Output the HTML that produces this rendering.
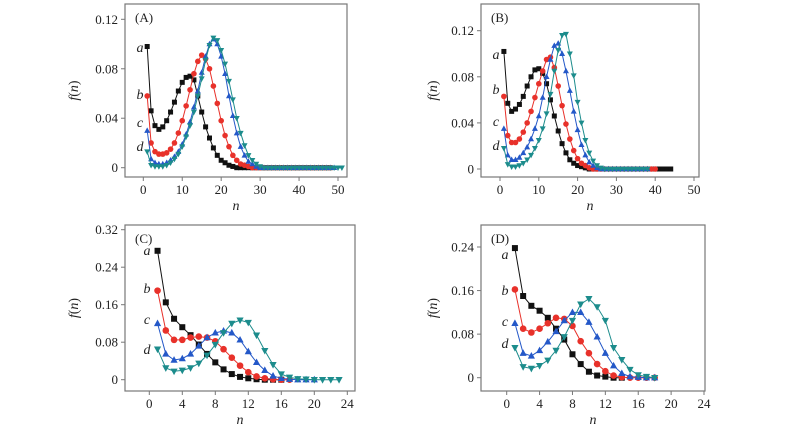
<!DOCTYPE html>
<html><head><meta charset="utf-8"><style>
html,body{margin:0;padding:0;background:#fff;}
svg{display:block;font-family:"Liberation Serif",serif;}
</style></head><body>
<svg id="fig" width="800" height="434" viewBox="0 0 800 434" xmlns="http://www.w3.org/2000/svg"></svg>
<script>
// Panel A data (n starts at 1)
const aA=[.098,.046,.034,.031,.033,.038,.045,.053,.062,.069,.073,.074,.071,.058,.045,.033,.024,.016,.010,.006,.004,.002,.001,0,0,0,0,0,0,0,0,0,0,0,0,0,0,0,0,0,0,0,0,0,0,0,0,0];
const bA=[.058,.020,.013,.011,.011,.012,.015,.020,.028,.038,.050,.063,.076,.086,.091,.088,.080,.066,.052,.038,.026,.017,.010,.006,.003,.002,.001,0,0,0,0,0,0,0,0,0,0,0,0,0,0,0,0,0,0,0,0,0];
const cA=[.030,.007,.004,.003,.003,.004,.006,.009,.013,.019,.027,.037,.049,.062,.077,.090,.100,.104,.100,.090,.076,.058,.042,.028,.017,.010,.005,.003,.001,0,0,0,0,0,0,0,0,0,0,0,0,0,0,0,0,0,0,0,0];
const dA=[.013,.002,.001,.001,.001,.002,.004,.007,.011,.017,.025,.034,.045,.058,.072,.087,.099,.105,.103,.095,.084,.070,.055,.040,.028,.018,.010,.006,.003,.001,0,0,0,0,0,0,0,0,0,0,0,0,0,0,0,0,0,0,0,0,0];
// Panel B data
const aB=[.102,.057,.050,.052,.056,.063,.072,.080,.086,.087,.083,.074,.060,.046,.033,.022,.014,.008,.005,.003,.002,.001,0,0,0,0,0,0,0,0,0,0,0,0,0,0,0,0,0,0,0,0,0,0];
const bB=[.063,.029,.023,.023,.026,.032,.040,.050,.062,.074,.085,.095,.097,.088,.072,.055,.039,.026,.016,.009,.005,.003,.001,0,0,0,0,0,0,0,0,0,0,0,0,0,0,0,0,0];
const cB=[.035,.012,.008,.008,.010,.014,.019,.026,.035,.046,.062,.080,.095,.107,.109,.100,.085,.068,.050,.034,.021,.012,.006,.003,.001,0,0,0,0,0,0,0,0,0,0,0,0,0];
const dB=[.018,.004,.002,.002,.003,.005,.008,.012,.018,.025,.035,.048,.065,.085,.103,.116,.117,.100,.081,.058,.040,.025,.014,.007,.003,.001,0,0,0,0,0,0,0,0,0,0,0,0];
// Panel C data
const aC=[.275,.165,.130,.112,.095,.075,.055,.037,.022,.012,.006,.003,.001,0,0,0];
const bC=[.190,.105,.085,.085,.090,.092,.090,.082,.065,.047,.030,.016,.007,.003,.001,0,0];
const cC=[.120,.055,.042,.045,.055,.072,.090,.100,.104,.100,.085,.060,.037,.020,.008,.003,.001,0,0,0];
const dC=[.065,.025,.018,.020,.025,.035,.052,.075,.100,.120,.127,.122,.095,.062,.032,.012,.005,.002,.001,0,0,0,0];
// Panel D data
const aD=[.238,.150,.132,.123,.110,.090,.070,.043,.025,.011,.004,.002,0,0];
const bD=[.162,.090,.083,.090,.100,.110,.108,.095,.067,.045,.025,.012,.004,.001,0,0,0,0];
const cD=[.100,.045,.040,.050,.066,.085,.105,.120,.120,.102,.075,.045,.022,.008,.002,.001,0,0];
const dD=[.055,.020,.017,.022,.032,.050,.075,.105,.135,.145,.130,.105,.055,.033,.015,.005,.002,0];
// tick labels
const xTicksAB=[0,10,20,30,40,50];
const yTicksA=[0,0.04,0.08,0.12];
const xTicksCD=[0,4,8,12,16,20,24];
const yTicksC=[0,0.08,0.16,0.24,0.32];
const yTicksD=[0,0.08,0.16,0.24];
const seriesNames=['a','b','c','d'];

const NS='http://www.w3.org/2000/svg';
const svg=document.getElementById('fig');
const colors=['#111','#e8312a','#2458c8','#1c8c8c'];
function el(t,at,p){const e=document.createElementNS(NS,t);for(const k in at)e.setAttribute(k,at[k]);(p||svg).appendChild(e);return e;}

function panel(cfg){
  const g=el('g',{});
  
  
  const X=v=>cfg.x0+(v-cfg.xmin)/(cfg.xmax-cfg.xmin)*(cfg.x1-cfg.x0);
  const Y=v=>cfg.y0+(v-cfg.ymin)/(cfg.ymax-cfg.ymin)*(cfg.y1-cfg.y0);
  const fr=el('rect',{x:cfg.L,y:cfg.T,width:cfg.R-cfg.L,height:cfg.B-cfg.T,fill:'none',stroke:'#777','stroke-width':1.2},g);
  
  
  cfg.xt.forEach(v=>{
    el('line',{x1:X(v),x2:X(v),y1:cfg.B,y2:cfg.B+4,stroke:'#777'},g);
    const t=el('text',{x:X(v),y:cfg.B+17,'text-anchor':'middle','font-size':13,fill:'#222'},g);
    t.textContent=v;
    
    
  });
  cfg.yt.forEach(v=>{
    el('line',{x1:cfg.L-4,x2:cfg.L,y1:Y(v),y2:Y(v),stroke:'#777'},g);
    const t=el('text',{x:cfg.L-7,y:Y(v)+4.5,'text-anchor':'end','font-size':13,fill:'#222'},g);
    t.textContent=v===0?'0':v.toFixed(2);
    
    
  });
  const pl=el('text',{x:cfg.L+10,y:cfg.T+18,'font-size':13,fill:'#222'},g);
  pl.textContent='('+cfg.id+')';
  
  
  const xt=el('text',{x:(cfg.L+cfg.R)/2,y:cfg.B+33,'text-anchor':'middle','font-size':14,'font-style':'italic',fill:'#222'},g);
  xt.textContent='n';
  
  
  const yt=el('text',{x:cfg.ytx,y:(cfg.T+cfg.B)/2,'text-anchor':'middle','font-size':14,fill:'#222',transform:`rotate(-90 ${cfg.ytx} ${(cfg.T+cfg.B)/2})`},g);
  yt.innerHTML='<tspan font-style="italic">f</tspan>(<tspan font-style="italic">n</tspan>)';
  
  
  const s=cfg.ms;
  cfg.data.forEach((arr,i)=>{
    const sg=el('g',{},g);
    
    
    const pts=arr.map((v,k)=>[X(k+1),Y(v)]);
    el('polyline',{points:pts.map(p=>p.join(',')).join(' '),fill:'none',stroke:colors[i],'stroke-width':1},sg);
    pts.forEach(([x,y])=>{
      let m;
      if(i===0)m=el('rect',{x:x-s/2,y:y-s/2,width:s,height:s,fill:colors[i]},sg);
      else if(i===1)m=el('circle',{cx:x,cy:y,r:s/2+0.3,fill:colors[i]},sg);
      else if(i===2)m=el('polygon',{points:`${x},${y-s*0.65} ${x-s*0.6},${y+s*0.45} ${x+s*0.6},${y+s*0.45}`,fill:colors[i]},sg);
      else m=el('polygon',{points:`${x},${y+s*0.65} ${x-s*0.6},${y-s*0.45} ${x+s*0.6},${y-s*0.45}`,fill:colors[i]},sg);
      
      
    });
    const lb=el('text',{x:cfg.lx,y:cfg.ly[i]+4,'text-anchor':'middle','font-size':14,'font-style':'italic',fill:'#222'},g);
    lb.textContent=seriesNames[i];
    
    
  });
}
panel({id:'A',L:125,R:347,T:4,B:177,x0:143.3,x1:338,xmin:0,xmax:50,y0:167.7,y1:19.3,ymin:0,ymax:0.12,xt:xTicksAB,yt:yTicksA,ytx:78,ms:5,lx:140,ly:[48,95,123,147],data:[aA,bA,cA,dA]});
panel({id:'B',L:481,R:699,T:4,B:177,x0:500,x1:694,xmin:0,xmax:50,y0:169,y1:30.7,ymin:0,ymax:0.12,xt:xTicksAB,yt:yTicksA,ytx:437,ms:5,lx:496,ly:[55,90,122,146],data:[aB,bB,cB,dB]});
panel({id:'C',L:125,R:355,T:225,B:391,x0:149.3,x1:347.3,xmin:0,xmax:24,y0:379.7,y1:229.7,ymin:0,ymax:0.32,xt:xTicksCD,yt:yTicksC,ytx:78,ms:6,lx:147,ly:[251,289,320,350],data:[aC,bC,cC,dC]});
panel({id:'D',L:481,R:705,T:225,B:391,x0:506.7,x1:704,xmin:0,xmax:24,y0:377.7,y1:247,ymin:0,ymax:0.24,xt:xTicksCD,yt:yTicksD,ytx:437,ms:6,lx:505,ly:[255,291,322,344],data:[aD,bD,cD,dD]});
</script>
</body></html>
